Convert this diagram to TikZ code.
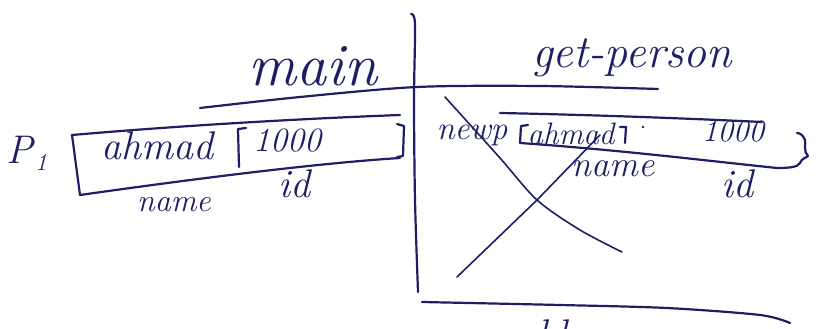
\documentclass[tikz,border=0pt]{standalone}
\definecolor{ink}{RGB}{30,30,100}
\tikzset{
  pen/.style={draw=ink, line width=2.2pt, line cap=round, line join=round},
  thinpen/.style={draw=ink, line width=1.6pt, line cap=round, line join=round},
  hand/.style={text=ink, inner sep=0pt, font=\itshape\fontsize{#1}{#1}\selectfont},
  hand/.default=36
}
\begin{document}
\begin{tikzpicture}[x=1pt,y=-1pt]
\useasboundingbox[fill=white] (0,0) rectangle (817,329);

% headings
\node[hand=60] (main) at (313,66) {main};
\node[hand=46] (getp) at (632,58) {get-person};

% divider and underline
\draw[pen] plot[smooth] coordinates {(411,14) (415,24) (414,100) (415,200) (418,292)};
\draw[pen] plot[smooth] coordinates {(200,108) (300,97) (417,87) (540,86) (658,89)};

% left record p1
\node[hand=40] (p) at (20,150) {P};
\node[hand=24] (one) at (41,163) {1};
\draw[pen] (72,135) .. controls (200,124) and (320,118) .. (400,115);
\draw[pen] (72,135) -- (80,195);
\draw[pen] (80,195) .. controls (200,178) and (320,163) .. (400,158);
\draw[pen] (246,128) -- (238,129) -- (239,167);
\draw[pen] (397,124) -- (404,126) -- (403,156) -- (397,157);
\node[hand=40] (lahmad) at (157,146) {ahmad};
\node[hand=34] (l1000) at (287,141) {1000};
\node[hand=32] (lname) at (174,205) {name};
\node[hand=40] (lid) at (294,184) {id};

% right record newp
\node[hand=33] (newp) at (472,135) {newp};
\draw[pen] (500,113) .. controls (600,115) and (700,119) .. (762,122);
\draw[pen] (528,125) -- (521,126) -- (520,143);
\draw[pen] (520,143) .. controls (620,150) and (700,160) .. (777,168);
\draw[pen] (620,127) -- (626,127) -- (625,143);
\fill[ink] (643,127) circle (1.4);
\draw[pen] (777,168) .. controls (790,168) and (798,167) .. (800,163)
  .. controls (802,158) and (806,158) .. (808,156)
  .. controls (803,152) and (806,142) .. (805,140)
  .. controls (803,135) and (800,133) .. (797,133);
\node[hand=31] (rahmad) at (571,134) {ahmad};
\node[hand=31] (r1000) at (733,132) {1000};
\node[hand=36] (rname) at (613,169) {name};
\node[hand=40] (rid) at (737,184) {id};

% cross-out
\draw[thinpen] plot[smooth] coordinates {(445,97) (500,158) (537,200) (580,230) (622,252)};
\draw[thinpen] (600,135) -- (537,200) -- (457,277);

% bottom line and cut-off label
\draw[pen] plot[smooth] coordinates {(422,302) (560,305) (667,308) (760,315) (790,323)};
\node[hand=40, anchor=north] (bot) at (552,320) {ld};
\end{tikzpicture}
\end{document}
